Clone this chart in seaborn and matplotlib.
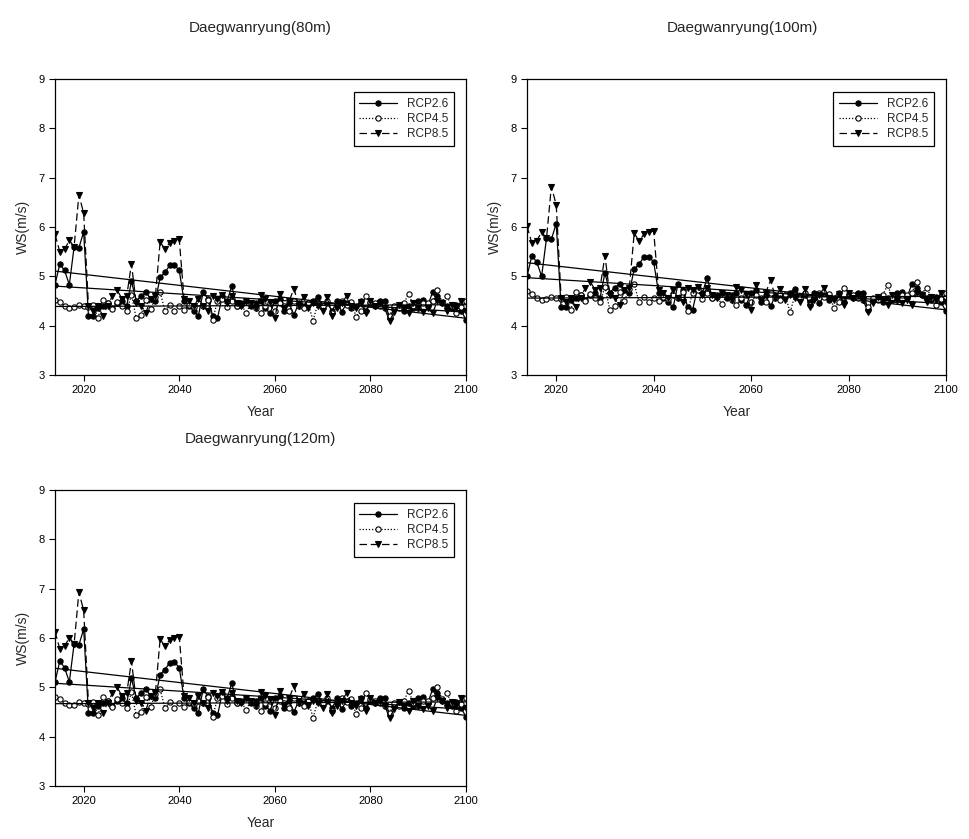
import numpy as np
import pandas as pd
import matplotlib
matplotlib.use("Agg")
import matplotlib.pyplot as plt
import seaborn as sns

years = list(range(2014, 2101))
series_names = ["RCP2.6", "RCP4.5", "RCP8.5"]
panel_titles = ["Daegwanryung(80m)", "Daegwanryung(100m)", "Daegwanryung(120m)"]
x_ticks = [2020, 2040, 2060, 2080, 2100]
y_ticks = [3, 4, 5, 6, 7, 8, 9]

# ---------- 80 m ----------
rcp26_80 = [4.83, 5.25, 5.12, 4.83, 5.60, 5.58, 5.90, 4.20, 4.20, 4.35,
            4.40, 4.45, 4.35, 4.45, 4.50, 4.40, 4.90, 4.50, 4.60, 4.68,
            4.55, 4.50, 4.98, 5.08, 5.22, 5.23, 5.12, 4.50, 4.40, 4.30,
            4.20, 4.68, 4.55, 4.20, 4.15, 4.60, 4.50, 4.80, 4.40, 4.45,
            4.50, 4.40, 4.45, 4.50, 4.35, 4.25, 4.50, 4.55, 4.30, 4.45,
            4.22, 4.45, 4.40, 4.45, 4.50, 4.58, 4.40, 4.45, 4.30, 4.50,
            4.28, 4.45, 4.35, 4.40, 4.50, 4.30, 4.45, 4.40, 4.50, 4.50,
            4.15, 4.35, 4.40, 4.30, 4.40, 4.35, 4.50, 4.52, 4.40, 4.68,
            4.60, 4.45, 4.40, 4.35, 4.42, 4.30, 4.12]
rcp45_80 = [4.53, 4.48, 4.40, 4.36, 4.37, 4.42, 4.40, 4.38, 4.42, 4.15,
            4.52, 4.45, 4.33, 4.48, 4.40, 4.30, 4.62, 4.15, 4.22, 4.52,
            4.33, 4.58, 4.68, 4.30, 4.42, 4.30, 4.40, 4.32, 4.42, 4.38,
            4.45, 4.40, 4.52, 4.12, 4.50, 4.55, 4.38, 4.50, 4.40, 4.42,
            4.26, 4.45, 4.35, 4.25, 4.40, 4.45, 4.30, 4.45, 4.40, 4.30,
            4.50, 4.40, 4.35, 4.45, 4.10, 4.45, 4.40, 4.50, 4.25, 4.40,
            4.50, 4.42, 4.48, 4.18, 4.30, 4.60, 4.48, 4.45, 4.40, 4.35,
            4.20, 4.40, 4.35, 4.45, 4.65, 4.40, 4.35, 4.45, 4.45, 4.50,
            4.72, 4.48, 4.60, 4.40, 4.25, 4.38, 4.50]
rcp85_80 = [5.85, 5.50, 5.55, 5.73, 5.60, 6.65, 6.28, 4.40, 4.30, 4.40,
            4.20, 4.40, 4.60, 4.72, 4.55, 4.60, 5.25, 4.45, 4.40, 4.25,
            4.55, 4.60, 5.70, 5.55, 5.68, 5.72, 5.75, 4.55, 4.50, 4.40,
            4.55, 4.40, 4.30, 4.60, 4.55, 4.62, 4.45, 4.60, 4.45, 4.40,
            4.50, 4.45, 4.35, 4.62, 4.55, 4.48, 4.15, 4.65, 4.35, 4.50,
            4.75, 4.40, 4.58, 4.35, 4.45, 4.40, 4.30, 4.58, 4.20, 4.35,
            4.45, 4.60, 4.40, 4.35, 4.48, 4.25, 4.50, 4.40, 4.45, 4.35,
            4.10, 4.28, 4.42, 4.35, 4.25, 4.45, 4.35, 4.28, 4.35, 4.25,
            4.50, 4.45, 4.30, 4.42, 4.35, 4.50, 4.30]

# ---------- 100 m ----------
rcp26_100 = [5.00, 5.42, 5.29, 5.00, 5.77, 5.75, 6.07, 4.37, 4.37, 4.52,
             4.57, 4.62, 4.52, 4.62, 4.67, 4.57, 5.07, 4.67, 4.77, 4.85,
             4.72, 4.67, 5.15, 5.25, 5.39, 5.40, 5.29, 4.67, 4.57, 4.47,
             4.37, 4.85, 4.72, 4.37, 4.32, 4.77, 4.67, 4.97, 4.57, 4.62,
             4.67, 4.57, 4.62, 4.67, 4.52, 4.42, 4.67, 4.72, 4.47, 4.62,
             4.39, 4.62, 4.57, 4.62, 4.67, 4.75, 4.57, 4.62, 4.47, 4.67,
             4.45, 4.62, 4.52, 4.57, 4.67, 4.47, 4.62, 4.57, 4.67, 4.67,
             4.32, 4.52, 4.57, 4.47, 4.57, 4.52, 4.67, 4.69, 4.57, 4.85,
             4.77, 4.62, 4.57, 4.52, 4.59, 4.47, 4.29]
rcp45_100 = [4.70, 4.65, 4.57, 4.53, 4.54, 4.59, 4.57, 4.55, 4.59, 4.32,
             4.69, 4.62, 4.50, 4.65, 4.57, 4.47, 4.79, 4.32, 4.39, 4.69,
             4.50, 4.75, 4.85, 4.47, 4.59, 4.47, 4.57, 4.49, 4.59, 4.55,
             4.62, 4.57, 4.69, 4.29, 4.67, 4.72, 4.55, 4.67, 4.57, 4.59,
             4.43, 4.62, 4.52, 4.42, 4.57, 4.62, 4.47, 4.62, 4.57, 4.47,
             4.67, 4.57, 4.52, 4.62, 4.27, 4.62, 4.57, 4.67, 4.42, 4.57,
             4.67, 4.59, 4.65, 4.35, 4.47, 4.77, 4.65, 4.62, 4.57, 4.52,
             4.37, 4.57, 4.52, 4.62, 4.82, 4.57, 4.52, 4.62, 4.62, 4.67,
             4.89, 4.65, 4.77, 4.57, 4.42, 4.55, 4.67]
rcp85_100 = [6.02, 5.67, 5.72, 5.90, 5.77, 6.82, 6.45, 4.57, 4.47, 4.57,
             4.37, 4.57, 4.77, 4.89, 4.72, 4.77, 5.42, 4.62, 4.57, 4.42,
             4.72, 4.77, 5.87, 5.72, 5.85, 5.89, 5.92, 4.72, 4.67, 4.57,
             4.72, 4.57, 4.47, 4.77, 4.72, 4.79, 4.62, 4.77, 4.62, 4.57,
             4.67, 4.62, 4.52, 4.79, 4.72, 4.65, 4.32, 4.82, 4.52, 4.67,
             4.92, 4.57, 4.75, 4.52, 4.62, 4.57, 4.47, 4.75, 4.37, 4.52,
             4.62, 4.77, 4.57, 4.52, 4.65, 4.42, 4.67, 4.57, 4.62, 4.52,
             4.27, 4.45, 4.59, 4.52, 4.42, 4.62, 4.52, 4.45, 4.52, 4.42,
             4.67, 4.62, 4.47, 4.59, 4.52, 4.67, 4.47]

# ---------- 120 m ----------
rcp26_120 = [5.11, 5.53, 5.40, 5.11, 5.88, 5.86, 6.18, 4.48, 4.48, 4.63,
             4.68, 4.73, 4.63, 4.73, 4.78, 4.68, 5.18, 4.78, 4.88, 4.96,
             4.83, 4.78, 5.26, 5.36, 5.50, 5.51, 5.40, 4.78, 4.68, 4.58,
             4.48, 4.96, 4.83, 4.48, 4.43, 4.88, 4.78, 5.08, 4.68, 4.73,
             4.78, 4.68, 4.73, 4.78, 4.63, 4.53, 4.78, 4.83, 4.58, 4.73,
             4.50, 4.73, 4.68, 4.73, 4.78, 4.86, 4.68, 4.73, 4.58, 4.78,
             4.56, 4.73, 4.63, 4.68, 4.78, 4.58, 4.73, 4.68, 4.78, 4.78,
             4.43, 4.63, 4.68, 4.58, 4.68, 4.63, 4.78, 4.80, 4.68, 4.96,
             4.88, 4.73, 4.68, 4.63, 4.70, 4.58, 4.40]
rcp45_120 = [4.81, 4.76, 4.68, 4.64, 4.65, 4.70, 4.68, 4.66, 4.70, 4.43,
             4.80, 4.73, 4.61, 4.76, 4.68, 4.58, 4.90, 4.43, 4.50, 4.80,
             4.61, 4.86, 4.96, 4.58, 4.70, 4.58, 4.68, 4.60, 4.70, 4.66,
             4.73, 4.68, 4.80, 4.40, 4.78, 4.83, 4.66, 4.78, 4.68, 4.70,
             4.54, 4.73, 4.63, 4.53, 4.68, 4.73, 4.58, 4.73, 4.68, 4.58,
             4.78, 4.68, 4.63, 4.73, 4.38, 4.73, 4.68, 4.78, 4.53, 4.68,
             4.78, 4.70, 4.76, 4.46, 4.58, 4.88, 4.76, 4.73, 4.68, 4.63,
             4.48, 4.68, 4.63, 4.73, 4.93, 4.68, 4.63, 4.73, 4.73, 4.78,
             5.00, 4.76, 4.88, 4.68, 4.53, 4.66, 4.78]
rcp85_120 = [6.13, 5.78, 5.83, 6.01, 5.88, 6.93, 6.56, 4.68, 4.58, 4.68,
             4.48, 4.68, 4.88, 5.00, 4.83, 4.88, 5.53, 4.73, 4.68, 4.53,
             4.83, 4.88, 5.98, 5.83, 5.96, 6.00, 6.03, 4.83, 4.78, 4.68,
             4.83, 4.68, 4.58, 4.88, 4.83, 4.90, 4.73, 4.88, 4.73, 4.68,
             4.78, 4.73, 4.63, 4.90, 4.83, 4.76, 4.43, 4.93, 4.63, 4.78,
             5.03, 4.68, 4.86, 4.63, 4.73, 4.68, 4.58, 4.86, 4.48, 4.63,
             4.73, 4.88, 4.68, 4.63, 4.76, 4.53, 4.78, 4.68, 4.73, 4.63,
             4.38, 4.56, 4.70, 4.63, 4.53, 4.73, 4.63, 4.56, 4.63, 4.53,
             4.78, 4.73, 4.58, 4.70, 4.63, 4.78, 4.58]

panels = [
    (rcp26_80, rcp45_80, rcp85_80),
    (rcp26_100, rcp45_100, rcp85_100),
    (rcp26_120, rcp45_120, rcp85_120),
]

sns.set_style("ticks")
plt.rcParams['font.family'] = ['Liberation Sans', 'DejaVu Sans']

styles = {
    "RCP2.6": dict(linestyle="-", marker="o", markerfacecolor="black", markersize=3.8),
    "RCP4.5": dict(linestyle=(0, (1, 1.5)), marker="o", markerfacecolor="white", markersize=3.8),
    "RCP8.5": dict(linestyle=(0, (6, 3)), marker="v", markerfacecolor="black", markersize=4.3),
}

W, H = 970, 839
fig = plt.figure(figsize=(W / 100, H / 100), dpi=100)
fig.patch.set_facecolor("white")

# axes boxes in pixels: left, top, right, bottom
boxes = [(55, 79, 466, 375), (527, 79, 946, 375), (55, 490, 466, 786)]
title_pos = [(260, 28), (742, 28), (260, 439)]

for (l, t, r, b), (tx, ty), title, data in zip(boxes, title_pos, panel_titles, panels):
    ax = fig.add_axes([l / W, 1 - b / H, (r - l) / W, (b - t) / H])
    handles = []
    for name, vals in zip(series_names, data):
        st = styles[name]
        sns.lineplot(x=years, y=vals, ax=ax, color="black", linewidth=0.9,
                     linestyle=st["linestyle"], marker=st["marker"],
                     markerfacecolor=st["markerfacecolor"], markeredgecolor="black",
                     markeredgewidth=0.8, markersize=st["markersize"],
                     label=name, legend=False)
        handles.append(ax.lines[-1])
    for name, vals in zip(series_names, data):
        sns.regplot(x=np.array(years, dtype=float), y=np.array(vals), ax=ax,
                    scatter=False, ci=None, truncate=True,
                    line_kws=dict(color="black", linewidth=0.9))
    ax.set_xlim(2014, 2100)
    ax.set_ylim(3, 9)
    ax.set_xticks(x_ticks)
    ax.set_yticks(y_ticks)
    ax.tick_params(axis="both", direction="out", length=4, width=0.8,
                   labelsize=8, colors="black")
    for s in ax.spines.values():
        s.set_visible(True)
        s.set_color("black")
        s.set_linewidth(0.9)
    ax.set_xlabel("Year", fontsize=10, labelpad=7)
    ax.set_ylabel("WS(m/s)", fontsize=10, labelpad=6)
    leg = ax.legend(handles=handles, labels=series_names, loc="upper right",
                    bbox_to_anchor=(0.985, 0.975), fontsize=8.5, frameon=True,
                    fancybox=False, edgecolor="black", framealpha=1,
                    handlelength=3.2, borderpad=0.5, labelspacing=0.25,
                    handletextpad=0.8)
    leg.get_frame().set_linewidth(0.9)
    fig.text(tx / W, 1 - ty / H, title, ha="center", va="center", fontsize=11)

fig.savefig("out.png", dpi=100, facecolor="white")
